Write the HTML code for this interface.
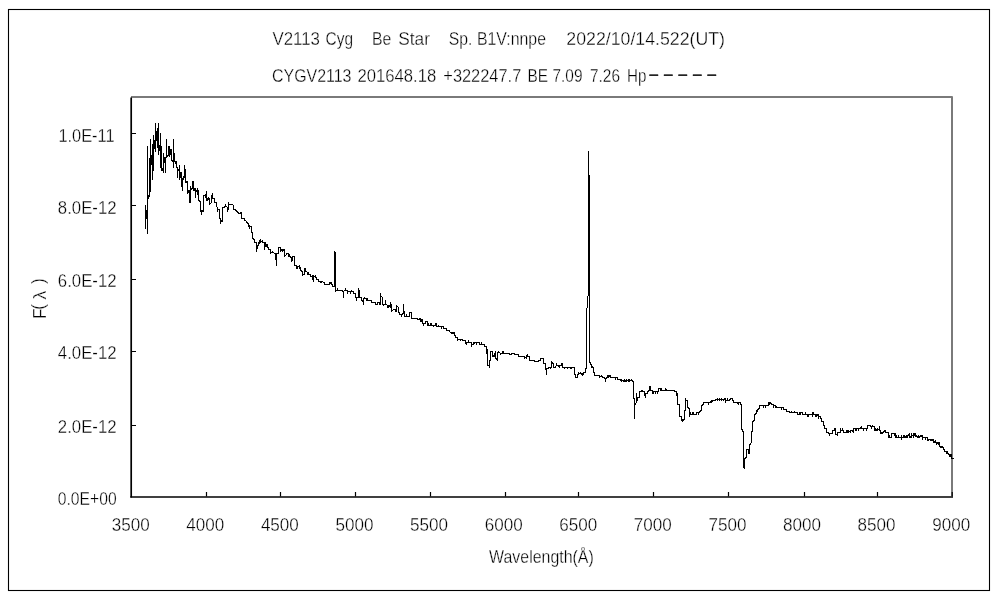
<!DOCTYPE html>
<html lang="ja">
<head>
<meta charset="utf-8">
<title>V2113 Cyg Be Star spectrum</title>
<style>
html,body{margin:0;padding:0;background:#fff;}
body{width:1000px;height:600px;overflow:hidden;}
svg{display:block;will-change:transform;filter:grayscale(1);}
text{font-family:'Liberation Sans','IPAGothic',sans-serif;font-size:17.5px;fill:#000;stroke:#fff;stroke-width:0.32px;}
</style>
</head>
<body>
<svg width="1000" height="600" viewBox="0 0 1000 600">
<rect x="0" y="0" width="1000" height="600" fill="#fff"/>
<!-- outer frame -->
<rect x="8.5" y="9.5" width="981" height="581" fill="none" stroke="#000" stroke-width="1.1"/>
<!-- plot area grey border (top + right) -->
<path d="M131 97H952V496" fill="none" stroke="#7a7a7a" stroke-width="2" stroke-linejoin="round"/>
<!-- axes -->
<path d="M131.2 97.4V497.6" fill="none" stroke="#000" stroke-width="1.7"/>
<path d="M130.3 497H953" fill="none" stroke="#000" stroke-width="1.6"/>
<path d="M206.50 496.5V492M280.50 496.5V492M355.50 496.5V492M430.50 496.5V492M505.50 496.5V492M578.50 496.5V492M653.50 496.5V492M728.50 496.5V492M804.50 496.5V492M877.50 496.5V492M952.2 496.5V492" fill="none" stroke="#000" stroke-width="1.2"/>
<path d="M131 133.50H136M131 205.50H136M131 279.50H136M131 351.50H136M131 425.50H136" fill="none" stroke="#000" stroke-width="1.2"/>
<path d="M145 205h1v24h-1zM146 210h1v9h-1zM147 146h1v88h-1zM148 195h1v4h-1zM149 158h1v39h-1zM150 139h1v53h-1zM151 155h1v10h-1zM152 144h1v36h-1zM153 135h1v36h-1zM154 140h1v9h-1zM155 123h1v29h-1zM156 131h1v10h-1zM157 128h1v20h-1zM158 123h1v32h-1zM159 145h1v6h-1zM160 133h1v35h-1zM161 146h1v25h-1zM162 168h1v3h-1zM163 153h1v20h-1zM164 157h1v6h-1zM165 157h1v16h-1zM166 139h1v19h-1zM167 155h1v2h-1zM168 146h1v10h-1zM169 146h1v11h-1zM170 149h1v6h-1zM171 149h1v12h-1zM172 160h1v2h-1zM173 139h1v29h-1zM174 153h1v9h-1zM175 161h1v3h-1zM176 161h1v7h-1zM177 167h1v11h-1zM178 169h1v2h-1zM179 165h1v15h-1zM180 172h1v6h-1zM181 172h1v15h-1zM182 178h1v13h-1zM183 176h1v4h-1zM184 165h1v13h-1zM185 169h1v14h-1zM186 181h1v2h-1zM187 181h1v13h-1zM188 190h1v3h-1zM189 190h1v13h-1zM190 186h1v17h-1zM191 188h1v2h-1zM192 181h1v8h-1zM193 181h1v10h-1zM194 188h1v3h-1zM195 188h1v10h-1zM196 190h1v2h-1zM197 188h1v7h-1zM198 190h1v11h-1zM199 200h1v2h-1zM200 201h1v11h-1zM201 210h1v5h-1zM202 210h1v2h-1zM203 195h1v17h-1zM204 195h1v1h-1zM205 194h1v4h-1zM206 191h1v10h-1zM207 198h1v3h-1zM208 197h1v3h-1zM209 198h1v7h-1zM210 203h1v1h-1zM211 195h1v8h-1zM212 193h1v6h-1zM213 198h1v1h-1zM214 198h1v5h-1zM215 202h1v1h-1zM216 202h1v5h-1zM217 207h1v5h-1zM218 209h1v1h-1zM219 209h1v10h-1zM220 218h1v6h-1zM221 220h1v2h-1zM222 207h1v15h-1zM223 207h1v1h-1zM224 206h1v2h-1zM225 204h1v3h-1zM226 206h1v1h-1zM227 207h1v5h-1zM228 202h1v8h-1zM229 204h1v1h-1zM230 204h1v1h-1zM231 204h1v1h-1zM232 204h1v1h-1zM233 205h1v5h-1zM234 209h1v1h-1zM235 209h1v2h-1zM236 210h1v2h-1zM237 211h1v2h-1zM238 212h1v2h-1zM239 213h1v1h-1zM240 212h1v2h-1zM241 212h1v7h-1zM242 218h1v1h-1zM243 218h1v1h-1zM244 218h1v3h-1zM245 220h1v1h-1zM246 221h1v2h-1zM247 222h1v2h-1zM248 223h1v4h-1zM249 225h1v4h-1zM250 226h1v1h-1zM251 226h1v7h-1zM252 232h1v7h-1zM253 238h1v2h-1zM254 239h1v4h-1zM255 242h1v1h-1zM256 242h1v10h-1zM257 245h1v4h-1zM258 242h1v4h-1zM259 240h1v4h-1zM260 239h1v4h-1zM261 241h1v1h-1zM262 240h1v3h-1zM263 242h1v1h-1zM264 242h1v8h-1zM265 242h1v5h-1zM266 244h1v3h-1zM267 244h1v4h-1zM268 247h1v3h-1zM269 249h1v1h-1zM270 249h1v5h-1zM271 252h1v1h-1zM272 251h1v2h-1zM273 252h1v1h-1zM274 253h1v1h-1zM275 253h1v7h-1zM276 253h1v13h-1zM277 253h1v1h-1zM278 247h1v7h-1zM279 247h1v1h-1zM280 247h1v5h-1zM281 249h1v2h-1zM282 249h1v3h-1zM283 249h1v2h-1zM284 249h1v8h-1zM285 255h1v1h-1zM286 253h1v2h-1zM287 253h1v1h-1zM288 253h1v4h-1zM289 254h1v3h-1zM290 256h1v2h-1zM291 257h1v5h-1zM292 256h1v5h-1zM293 256h1v1h-1zM294 256h1v10h-1zM295 265h1v1h-1zM296 265h1v4h-1zM297 266h1v3h-1zM298 266h1v1h-1zM299 265h1v4h-1zM300 267h1v4h-1zM301 270h1v2h-1zM302 271h1v5h-1zM303 274h1v1h-1zM304 268h1v7h-1zM305 268h1v4h-1zM306 271h1v1h-1zM307 272h1v3h-1zM308 272h1v3h-1zM309 274h1v1h-1zM310 274h1v3h-1zM311 276h1v1h-1zM312 275h1v5h-1zM313 275h1v7h-1zM314 276h1v1h-1zM315 275h1v3h-1zM316 277h1v3h-1zM317 279h1v1h-1zM318 279h1v3h-1zM319 281h1v1h-1zM320 281h1v2h-1zM321 281h1v2h-1zM322 281h1v1h-1zM323 282h1v1h-1zM324 282h1v3h-1zM325 284h1v1h-1zM326 284h1v1h-1zM327 284h1v1h-1zM328 284h1v1h-1zM329 282h1v3h-1zM330 282h1v2h-1zM331 282h1v3h-1zM332 284h1v3h-1zM333 286h1v1h-1zM334 251h1v36h-1zM335 252h1v40h-1zM336 290h1v1h-1zM337 288h1v3h-1zM338 290h1v1h-1zM339 290h1v1h-1zM340 290h1v1h-1zM341 290h1v1h-1zM342 290h1v2h-1zM343 291h1v7h-1zM344 290h1v1h-1zM345 288h1v3h-1zM346 290h1v1h-1zM347 290h1v4h-1zM348 291h1v1h-1zM349 291h1v1h-1zM350 291h1v3h-1zM351 290h1v2h-1zM352 291h1v1h-1zM353 291h1v3h-1zM354 293h1v1h-1zM355 293h1v5h-1zM356 297h1v4h-1zM357 297h1v1h-1zM358 288h1v10h-1zM359 290h1v8h-1zM360 297h1v1h-1zM361 297h1v4h-1zM362 300h1v2h-1zM363 298h1v7h-1zM364 297h1v2h-1zM365 298h1v1h-1zM366 298h1v3h-1zM367 298h1v3h-1zM368 300h1v1h-1zM369 300h1v1h-1zM370 300h1v1h-1zM371 300h1v3h-1zM372 302h1v1h-1zM373 302h1v1h-1zM374 302h1v1h-1zM375 302h1v3h-1zM376 304h1v1h-1zM377 302h1v3h-1zM378 302h1v1h-1zM379 302h1v3h-1zM380 293h1v12h-1zM381 296h1v1h-1zM382 297h1v8h-1zM383 304h1v2h-1zM384 304h1v1h-1zM385 300h1v5h-1zM386 304h1v1h-1zM387 305h1v3h-1zM388 305h1v3h-1zM389 305h1v2h-1zM390 302h1v6h-1zM391 304h1v8h-1zM392 310h1v1h-1zM393 309h1v1h-1zM394 309h1v1h-1zM395 309h1v3h-1zM396 305h1v7h-1zM397 306h1v1h-1zM398 307h1v6h-1zM399 312h1v3h-1zM400 314h1v1h-1zM401 314h1v3h-1zM402 313h1v2h-1zM403 304h1v10h-1zM404 311h1v6h-1zM405 316h1v1h-1zM406 314h1v3h-1zM407 316h1v1h-1zM408 316h1v1h-1zM409 312h1v5h-1zM410 312h1v1h-1zM411 312h1v7h-1zM412 318h1v1h-1zM413 318h1v1h-1zM414 318h1v1h-1zM415 318h1v1h-1zM416 318h1v1h-1zM417 318h1v2h-1zM418 319h1v1h-1zM419 318h1v2h-1zM420 318h1v4h-1zM421 319h1v3h-1zM422 319h1v5h-1zM423 323h1v3h-1zM424 323h1v1h-1zM425 321h1v3h-1zM426 321h1v1h-1zM427 321h1v5h-1zM428 323h1v3h-1zM429 325h1v1h-1zM430 323h1v3h-1zM431 323h1v3h-1zM432 325h1v1h-1zM433 325h1v2h-1zM434 325h1v1h-1zM435 323h1v3h-1zM436 323h1v4h-1zM437 326h1v1h-1zM438 325h1v2h-1zM439 326h1v1h-1zM440 326h1v1h-1zM441 326h1v3h-1zM442 326h1v1h-1zM443 326h1v3h-1zM444 328h1v1h-1zM445 328h1v1h-1zM446 328h1v3h-1zM447 330h1v1h-1zM448 330h1v1h-1zM449 330h1v2h-1zM450 332h1v1h-1zM451 332h1v2h-1zM452 332h1v2h-1zM453 332h1v2h-1zM454 332h1v4h-1zM455 335h1v3h-1zM456 337h1v1h-1zM457 337h1v4h-1zM458 339h1v1h-1zM459 339h1v1h-1zM460 339h1v2h-1zM461 339h1v1h-1zM462 339h1v2h-1zM463 340h1v1h-1zM464 340h1v1h-1zM465 340h1v4h-1zM466 342h1v3h-1zM467 342h1v1h-1zM468 340h1v3h-1zM469 342h1v1h-1zM470 342h1v1h-1zM471 342h1v5h-1zM472 344h1v1h-1zM473 342h1v3h-1zM474 342h1v2h-1zM475 342h1v1h-1zM476 342h1v3h-1zM477 342h1v1h-1zM478 342h1v1h-1zM479 342h1v3h-1zM480 344h1v1h-1zM481 342h1v3h-1zM482 344h1v1h-1zM483 344h1v1h-1zM484 344h1v3h-1zM485 346h1v1h-1zM486 346h1v8h-1zM487 349h1v17h-1zM488 365h1v1h-1zM489 360h1v8h-1zM490 351h1v10h-1zM491 351h1v1h-1zM492 351h1v6h-1zM493 355h1v2h-1zM494 353h1v4h-1zM495 351h1v8h-1zM496 358h1v2h-1zM497 352h1v9h-1zM498 351h1v2h-1zM499 352h1v1h-1zM500 353h1v2h-1zM501 353h1v1h-1zM502 351h1v3h-1zM503 351h1v3h-1zM504 353h1v1h-1zM505 353h1v1h-1zM506 353h1v1h-1zM507 353h1v1h-1zM508 353h1v1h-1zM509 353h1v2h-1zM510 354h1v1h-1zM511 353h1v2h-1zM512 353h1v1h-1zM513 353h1v1h-1zM514 353h1v2h-1zM515 354h1v1h-1zM516 354h1v1h-1zM517 354h1v1h-1zM518 354h1v3h-1zM519 356h1v1h-1zM520 356h1v1h-1zM521 356h1v1h-1zM522 356h1v1h-1zM523 356h1v1h-1zM524 356h1v3h-1zM525 357h1v1h-1zM526 355h1v4h-1zM527 354h1v3h-1zM528 356h1v1h-1zM529 356h1v5h-1zM530 360h1v1h-1zM531 360h1v1h-1zM532 360h1v1h-1zM533 360h1v1h-1zM534 360h1v2h-1zM535 361h1v1h-1zM536 361h1v1h-1zM537 361h1v1h-1zM538 360h1v2h-1zM539 360h1v1h-1zM540 358h1v3h-1zM541 358h1v1h-1zM542 358h1v1h-1zM543 358h1v6h-1zM544 363h1v1h-1zM545 363h1v7h-1zM546 368h1v7h-1zM547 368h1v1h-1zM548 367h1v2h-1zM549 367h1v1h-1zM550 367h1v2h-1zM551 361h1v7h-1zM552 362h1v2h-1zM553 363h1v5h-1zM554 367h1v1h-1zM555 366h1v2h-1zM556 363h1v3h-1zM557 365h1v1h-1zM558 365h1v2h-1zM559 365h1v3h-1zM560 365h1v1h-1zM561 363h1v3h-1zM562 363h1v5h-1zM563 367h1v1h-1zM564 367h1v2h-1zM565 367h1v1h-1zM566 367h1v1h-1zM567 367h1v2h-1zM568 367h1v1h-1zM569 367h1v1h-1zM570 367h1v2h-1zM571 367h1v2h-1zM572 367h1v1h-1zM573 367h1v1h-1zM574 367h1v8h-1zM575 374h1v4h-1zM576 377h1v1h-1zM577 374h1v4h-1zM578 372h1v3h-1zM579 373h1v1h-1zM580 372h1v2h-1zM581 373h1v2h-1zM582 373h1v3h-1zM583 372h1v3h-1zM584 372h1v1h-1zM585 368h1v5h-1zM586 308h1v61h-1zM587 296h1v12h-1zM588 151h1v145h-1zM589 175h1v188h-1zM590 362h1v3h-1zM591 364h1v4h-1zM592 366h1v2h-1zM593 367h1v6h-1zM594 372h1v4h-1zM595 375h1v1h-1zM596 375h1v1h-1zM597 375h1v1h-1zM598 375h1v1h-1zM599 375h1v3h-1zM600 376h1v1h-1zM601 375h1v2h-1zM602 376h1v2h-1zM603 377h1v1h-1zM604 377h1v2h-1zM605 378h1v4h-1zM606 377h1v2h-1zM607 375h1v3h-1zM608 375h1v3h-1zM609 375h1v2h-1zM610 375h1v3h-1zM611 377h1v1h-1zM612 377h1v1h-1zM613 377h1v1h-1zM614 377h1v1h-1zM615 377h1v3h-1zM616 377h1v1h-1zM617 377h1v3h-1zM618 379h1v1h-1zM619 379h1v1h-1zM620 379h1v2h-1zM621 379h1v3h-1zM622 380h1v1h-1zM623 380h1v2h-1zM624 379h1v3h-1zM625 380h1v2h-1zM626 379h1v3h-1zM627 380h1v1h-1zM628 379h1v3h-1zM629 379h1v3h-1zM630 380h1v1h-1zM631 379h1v2h-1zM632 380h1v2h-1zM633 381h1v18h-1zM634 398h1v21h-1zM635 403h1v2h-1zM636 393h1v10h-1zM637 397h1v4h-1zM638 397h1v1h-1zM639 391h1v7h-1zM640 391h1v1h-1zM641 390h1v2h-1zM642 390h1v2h-1zM643 391h1v1h-1zM644 391h1v5h-1zM645 393h1v5h-1zM646 393h1v1h-1zM647 391h1v3h-1zM648 390h1v2h-1zM649 386h1v5h-1zM650 386h1v5h-1zM651 390h1v1h-1zM652 390h1v4h-1zM653 391h1v3h-1zM654 391h1v1h-1zM655 391h1v3h-1zM656 391h1v1h-1zM657 391h1v3h-1zM658 388h1v4h-1zM659 388h1v1h-1zM660 388h1v3h-1zM661 388h1v3h-1zM662 390h1v1h-1zM663 390h1v1h-1zM664 390h1v1h-1zM665 388h1v3h-1zM666 389h1v2h-1zM667 390h1v1h-1zM668 390h1v1h-1zM669 390h1v1h-1zM670 390h1v1h-1zM671 390h1v1h-1zM672 390h1v1h-1zM673 390h1v1h-1zM674 390h1v2h-1zM675 391h1v1h-1zM676 391h1v5h-1zM677 393h1v12h-1zM678 404h1v1h-1zM679 404h1v13h-1zM680 416h1v1h-1zM681 416h1v5h-1zM682 419h1v3h-1zM683 419h1v2h-1zM684 410h1v10h-1zM685 398h1v13h-1zM686 400h1v1h-1zM687 400h1v8h-1zM688 407h1v2h-1zM689 408h1v9h-1zM690 412h1v3h-1zM691 414h1v1h-1zM692 412h1v3h-1zM693 412h1v3h-1zM694 414h1v1h-1zM695 414h1v1h-1zM696 412h1v3h-1zM697 412h1v1h-1zM698 412h1v3h-1zM699 411h1v2h-1zM700 410h1v2h-1zM701 405h1v6h-1zM702 404h1v2h-1zM703 402h1v3h-1zM704 402h1v1h-1zM705 402h1v1h-1zM706 402h1v1h-1zM707 402h1v1h-1zM708 402h1v3h-1zM709 402h1v1h-1zM710 401h1v2h-1zM711 400h1v3h-1zM712 400h1v2h-1zM713 400h1v1h-1zM714 400h1v1h-1zM715 399h1v2h-1zM716 399h1v1h-1zM717 398h1v3h-1zM718 399h1v1h-1zM719 398h1v3h-1zM720 399h1v1h-1zM721 398h1v3h-1zM722 399h1v1h-1zM723 399h1v2h-1zM724 398h1v2h-1zM725 398h1v5h-1zM726 400h1v1h-1zM727 398h1v3h-1zM728 400h1v1h-1zM729 399h1v2h-1zM730 398h1v2h-1zM731 398h1v1h-1zM732 398h1v3h-1zM733 400h1v3h-1zM734 402h1v1h-1zM735 402h1v1h-1zM736 402h1v1h-1zM737 402h1v2h-1zM738 402h1v3h-1zM739 402h1v1h-1zM740 402h1v3h-1zM741 404h1v26h-1zM742 429h1v3h-1zM743 431h1v37h-1zM744 458h1v11h-1zM745 457h1v2h-1zM746 449h1v9h-1zM747 449h1v1h-1zM748 449h1v5h-1zM749 444h1v10h-1zM750 443h1v2h-1zM751 431h1v12h-1zM752 421h1v11h-1zM753 420h1v2h-1zM754 414h1v7h-1zM755 413h1v2h-1zM756 410h1v4h-1zM757 409h1v3h-1zM758 408h1v2h-1zM759 405h1v4h-1zM760 405h1v1h-1zM761 405h1v1h-1zM762 405h1v1h-1zM763 405h1v3h-1zM764 405h1v1h-1zM765 405h1v3h-1zM766 405h1v1h-1zM767 405h1v1h-1zM768 402h1v4h-1zM769 402h1v3h-1zM770 402h1v2h-1zM771 403h1v2h-1zM772 404h1v1h-1zM773 404h1v4h-1zM774 405h1v1h-1zM775 405h1v3h-1zM776 406h1v2h-1zM777 407h1v1h-1zM778 407h1v1h-1zM779 407h1v1h-1zM780 407h1v1h-1zM781 407h1v3h-1zM782 407h1v1h-1zM783 407h1v3h-1zM784 409h1v1h-1zM785 409h1v1h-1zM786 409h1v3h-1zM787 411h1v1h-1zM788 411h1v1h-1zM789 411h1v2h-1zM790 412h1v1h-1zM791 411h1v2h-1zM792 412h1v1h-1zM793 412h1v1h-1zM794 411h1v2h-1zM795 412h1v1h-1zM796 412h1v1h-1zM797 412h1v3h-1zM798 414h1v1h-1zM799 412h1v3h-1zM800 412h1v3h-1zM801 412h1v1h-1zM802 412h1v3h-1zM803 414h1v1h-1zM804 414h1v1h-1zM805 412h1v3h-1zM806 414h1v1h-1zM807 414h1v3h-1zM808 414h1v3h-1zM809 414h1v1h-1zM810 414h1v1h-1zM811 414h1v1h-1zM812 412h1v5h-1zM813 412h1v3h-1zM814 414h1v1h-1zM815 414h1v3h-1zM816 414h1v3h-1zM817 414h1v2h-1zM818 414h1v5h-1zM819 416h1v1h-1zM820 416h1v3h-1zM821 418h1v4h-1zM822 421h1v1h-1zM823 421h1v5h-1zM824 425h1v4h-1zM825 428h1v1h-1zM826 428h1v5h-1zM827 432h1v1h-1zM828 432h1v2h-1zM829 433h1v3h-1zM830 433h1v1h-1zM831 433h1v1h-1zM832 430h1v4h-1zM833 430h1v1h-1zM834 428h1v3h-1zM835 428h1v7h-1zM836 434h1v1h-1zM837 432h1v4h-1zM838 432h1v1h-1zM839 432h1v1h-1zM840 428h1v5h-1zM841 430h1v1h-1zM842 428h1v3h-1zM843 430h1v3h-1zM844 432h1v1h-1zM845 432h1v1h-1zM846 430h1v3h-1zM847 430h1v3h-1zM848 430h1v3h-1zM849 431h1v1h-1zM850 430h1v3h-1zM851 430h1v1h-1zM852 430h1v2h-1zM853 428h1v5h-1zM854 428h1v1h-1zM855 428h1v3h-1zM856 428h1v3h-1zM857 428h1v1h-1zM858 428h1v3h-1zM859 428h1v1h-1zM860 427h1v2h-1zM861 426h1v3h-1zM862 428h1v1h-1zM863 428h1v3h-1zM864 428h1v1h-1zM865 428h1v1h-1zM866 428h1v3h-1zM867 425h1v4h-1zM868 425h1v1h-1zM869 425h1v1h-1zM870 425h1v2h-1zM871 426h1v3h-1zM872 425h1v2h-1zM873 426h1v1h-1zM874 426h1v5h-1zM875 428h1v3h-1zM876 429h1v2h-1zM877 428h1v3h-1zM878 429h1v1h-1zM879 426h1v5h-1zM880 430h1v4h-1zM881 432h1v2h-1zM882 432h1v2h-1zM883 431h1v2h-1zM884 430h1v2h-1zM885 430h1v3h-1zM886 432h1v1h-1zM887 432h1v1h-1zM888 432h1v6h-1zM889 435h1v3h-1zM890 437h1v1h-1zM891 433h1v5h-1zM892 433h1v1h-1zM893 433h1v1h-1zM894 433h1v3h-1zM895 433h1v5h-1zM896 435h1v3h-1zM897 437h1v1h-1zM898 435h1v3h-1zM899 437h1v1h-1zM900 437h1v1h-1zM901 435h1v5h-1zM902 437h1v1h-1zM903 435h1v3h-1zM904 435h1v3h-1zM905 436h1v2h-1zM906 435h1v3h-1zM907 435h1v3h-1zM908 434h1v2h-1zM909 433h1v5h-1zM910 436h1v2h-1zM911 433h1v5h-1zM912 435h1v1h-1zM913 433h1v5h-1zM914 433h1v3h-1zM915 433h1v4h-1zM916 435h1v2h-1zM917 436h1v2h-1zM918 435h1v3h-1zM919 436h1v2h-1zM920 435h1v2h-1zM921 435h1v2h-1zM922 435h1v5h-1zM923 437h1v1h-1zM924 437h1v1h-1zM925 437h1v3h-1zM926 437h1v1h-1zM927 437h1v4h-1zM928 439h1v2h-1zM929 439h1v1h-1zM930 439h1v2h-1zM931 439h1v2h-1zM932 439h1v2h-1zM933 439h1v4h-1zM934 441h1v2h-1zM935 440h1v3h-1zM936 442h1v3h-1zM937 442h1v2h-1zM938 442h1v3h-1zM939 442h1v5h-1zM940 446h1v2h-1zM941 446h1v2h-1zM942 446h1v2h-1zM943 447h1v3h-1zM944 449h1v3h-1zM945 451h1v1h-1zM946 451h1v3h-1zM947 451h1v3h-1zM948 453h1v2h-1zM949 454h1v3h-1zM950 454h1v3h-1zM951 454h1v5h-1zM952 458h1v1h-1zM953 458h1v1h-1z" fill="#000" shape-rendering="crispEdges"/>
<text y="45"><tspan x="272.5" textLength="47.5" lengthAdjust="spacingAndGlyphs">V2113</tspan> <tspan x="325.5" textLength="27.5" lengthAdjust="spacingAndGlyphs">Cyg</tspan> <tspan x="372" textLength="19.3" lengthAdjust="spacingAndGlyphs">Be</tspan> <tspan x="398.3" textLength="31.7" lengthAdjust="spacingAndGlyphs">Star</tspan> <tspan x="448.8" textLength="23.7" lengthAdjust="spacingAndGlyphs">Sp.</tspan> <tspan x="477" textLength="69.0" lengthAdjust="spacingAndGlyphs">B1V:nnpe</tspan> <tspan x="566.3" textLength="158.7" lengthAdjust="spacingAndGlyphs">2022/10/14.522(UT)</tspan></text>
<text y="81.8"><tspan x="272" textLength="79.5" lengthAdjust="spacingAndGlyphs">CYGV2113</tspan> <tspan x="357.5" textLength="78.8" lengthAdjust="spacingAndGlyphs">201648.18</tspan> <tspan x="443.3" textLength="78.0" lengthAdjust="spacingAndGlyphs">+322247.7</tspan> <tspan x="527.5" textLength="20.5" lengthAdjust="spacingAndGlyphs">BE</tspan> <tspan x="552.5" textLength="30.0" lengthAdjust="spacingAndGlyphs">7.09</tspan> <tspan x="590" textLength="30.0" lengthAdjust="spacingAndGlyphs">7.26</tspan> <tspan x="627" textLength="19.3" lengthAdjust="spacingAndGlyphs">Hp</tspan><tspan x="647.4" dy="-2" font-size="12.5" stroke="#000" stroke-width="0.3" textLength="70.5" lengthAdjust="spacing">－－－－－</tspan></text>
<text x="130.70" y="531" text-anchor="middle" textLength="38" lengthAdjust="spacingAndGlyphs">3500</text>
<text x="205.29" y="531" text-anchor="middle" textLength="38" lengthAdjust="spacingAndGlyphs">4000</text>
<text x="279.88" y="531" text-anchor="middle" textLength="38" lengthAdjust="spacingAndGlyphs">4500</text>
<text x="354.47" y="531" text-anchor="middle" textLength="38" lengthAdjust="spacingAndGlyphs">5000</text>
<text x="429.06" y="531" text-anchor="middle" textLength="38" lengthAdjust="spacingAndGlyphs">5500</text>
<text x="503.65" y="531" text-anchor="middle" textLength="38" lengthAdjust="spacingAndGlyphs">6000</text>
<text x="578.25" y="531" text-anchor="middle" textLength="38" lengthAdjust="spacingAndGlyphs">6500</text>
<text x="652.84" y="531" text-anchor="middle" textLength="38" lengthAdjust="spacingAndGlyphs">7000</text>
<text x="727.43" y="531" text-anchor="middle" textLength="38" lengthAdjust="spacingAndGlyphs">7500</text>
<text x="802.02" y="531" text-anchor="middle" textLength="38" lengthAdjust="spacingAndGlyphs">8000</text>
<text x="876.61" y="531" text-anchor="middle" textLength="38" lengthAdjust="spacingAndGlyphs">8500</text>
<text x="951.20" y="531" text-anchor="middle" textLength="38" lengthAdjust="spacingAndGlyphs">9000</text>
<text x="116.6" y="505.0" text-anchor="end" textLength="58.8" lengthAdjust="spacingAndGlyphs">0.0E+00</text>
<text x="116.6" y="432.7" text-anchor="end" textLength="58.8" lengthAdjust="spacingAndGlyphs">2.0E-12</text>
<text x="116.6" y="359.1" text-anchor="end" textLength="58.8" lengthAdjust="spacingAndGlyphs">4.0E-12</text>
<text x="116.6" y="286.9" text-anchor="end" textLength="58.8" lengthAdjust="spacingAndGlyphs">6.0E-12</text>
<text x="116.6" y="213.9" text-anchor="end" textLength="58.8" lengthAdjust="spacingAndGlyphs">8.0E-12</text>
<text x="114.6" y="142.0" text-anchor="end" textLength="56.2" lengthAdjust="spacingAndGlyphs">1.0E-11</text>
<text x="489" y="562.8" textLength="104.8" lengthAdjust="spacingAndGlyphs">Wavelength(Å)</text>
<text transform="translate(46 318) rotate(-90)" x="-1.1 8.2 18.4 34" y="0 -2 0 -2">F(λ)</text>
</svg>
</body>
</html>
